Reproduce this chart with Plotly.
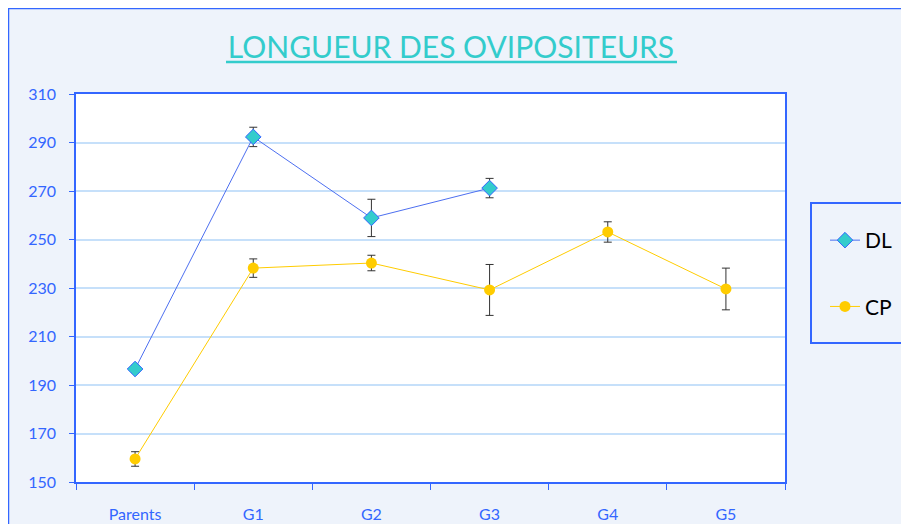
import plotly.graph_objects as go

categories = ["Parents", "G1", "G2", "G3", "G4", "G5"]
dl_values = [196.6, 292.3, 258.9, 271.2, None, None]
dl_err = [1.5, 4.0, 7.7, 4.0, 0, 0]
cp_values = [159.5, 238.2, 240.3, 229.2, 253.1, 229.6]
cp_err = [3.0, 3.8, 3.2, 10.5, 4.2, 8.6]
y_ticks = [150, 170, 190, 210, 230, 250, 270, 290, 310]

FONT = "Comic Sans MS, Lato, sans-serif"
BLUE = "#3366FF"
BG = "#EEF3FB"

fig = go.Figure()
fig.add_trace(go.Scatter(
    x=categories, y=dl_values, name="DL", mode="lines+markers",
    legendgroup="a",
    line=dict(color="#4D6FF0", width=1),
    marker=dict(symbol="diamond", size=12, color="#33CCCC",
                line=dict(color=BLUE, width=1)),
    error_y=dict(type="data", array=dl_err, color="#333333",
                 thickness=1, width=4),
))
fig.add_trace(go.Scatter(
    x=categories, y=cp_values, name="CP", mode="lines+markers",
    legendgroup="b",
    line=dict(color="#FFCC00", width=1),
    marker=dict(symbol="circle", size=11, color="#FFCC00",
                line=dict(color="#FFCC00", width=0)),
    error_y=dict(type="data", array=cp_err, color="#333333",
                 thickness=1, width=4),
))

OFF = 8  # page offset of the figure (body margin)
W, H = 909 - OFF, 524 - OFF
# plot area in page pixels: x 76..785, y 94..482
L = 76 - OFF
T = 94 - OFF
R = W - (785 - OFF)
B = H - (482 - OFF)
pw, ph = W - L - R, H - T - B

def px(x):
    return (x - OFF - L) / pw

def py(y):
    return (H - B - (y - OFF)) / ph

shapes = [
    # outer border
    dict(type="rect", xref="paper", yref="paper",
         x0=px(8), x1=px(960), y0=py(600), y1=py(8),
         line=dict(color=BLUE, width=2.5), fillcolor="rgba(0,0,0,0)", layer="below"),
    # legend box
    dict(type="rect", xref="paper", yref="paper",
         x0=px(811), x1=px(912), y0=py(343), y1=py(203),
         line=dict(color=BLUE, width=2), fillcolor="rgba(0,0,0,0)"),
    # title underline
    dict(type="line", xref="paper", yref="paper",
         x0=px(226), x1=px(677), y0=py(62), y1=py(62),
         line=dict(color="#33CCCC", width=2.5)),
]

fig.update_layout(
    width=W, height=H, autosize=False,
    paper_bgcolor=BG, plot_bgcolor="white",
    margin=dict(l=L, r=R, t=T, b=B, autoexpand=False),
    title=dict(text="LONGUEUR DES OVIPOSITEURS", x=(451 - OFF) / W, xref="container",
               xanchor="center", y=1 - (47 - OFF) / H, yanchor="middle",
               font=dict(family=FONT, size=30, color="#33CCCC")),
    font=dict(family=FONT),
    showlegend=True,
    legend=dict(x=px(825), y=py(220), xanchor="left", yanchor="top",
                bgcolor="rgba(0,0,0,0)", borderwidth=0,
                tracegroupgap=36,
                font=dict(family=FONT, size=21, color="black")),
    shapes=shapes,
)

fig.update_xaxes(
    type="category", categoryorder="array", categoryarray=categories,
    range=[-0.5, len(categories) - 0.5], autorange=False, automargin=False,
    tickson="boundaries", ticks="outside", ticklen=6, tickcolor=BLUE,
    showline=True, linecolor=BLUE, linewidth=1.5, mirror=True,
    showgrid=False, tickfont=dict(family=FONT, size=16, color=BLUE),
    ticklabelstandoff=17,
)
fig.update_yaxes(
    range=[150, 310], autorange=False, automargin=False,
    tickvals=y_ticks, ticks="outside", ticklen=5,
    tickcolor=BLUE, showline=True, linecolor=BLUE, linewidth=1.5, mirror=True,
    gridcolor="#C6E0FA", gridwidth=1.5, zeroline=False,
    tickfont=dict(family=FONT, size=16, color=BLUE),
    ticklabelstandoff=10,
)

fig.write_html("out.html")
